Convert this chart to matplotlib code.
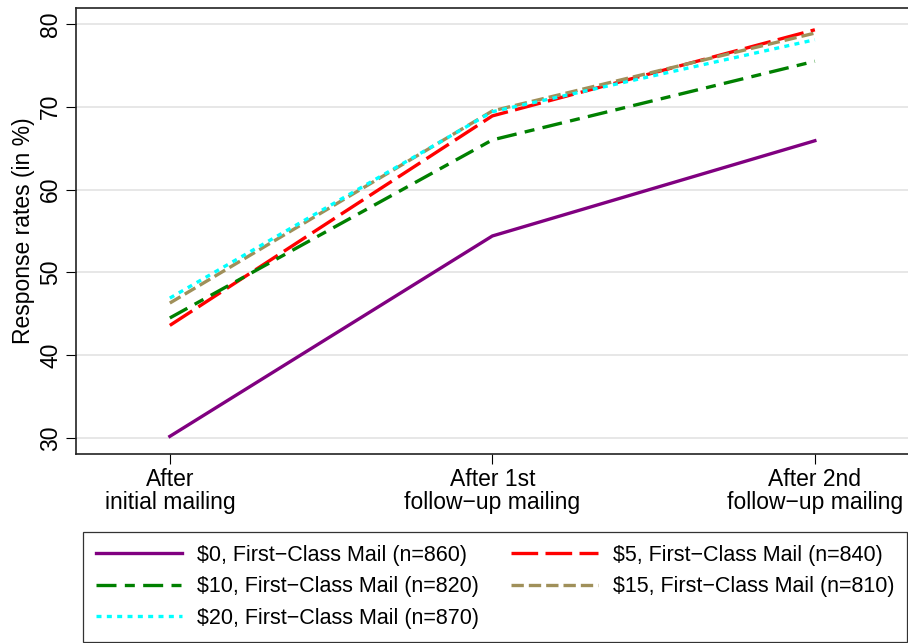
import matplotlib.pyplot as plt
import numpy as np

plt.rcParams['font.family'] = ['Liberation Sans', 'DejaVu Sans']

stages = ["After\ninitial mailing", "After 1st\nfollow\u2212up mailing", "After 2nd\nfollow\u2212up mailing"]
labels = ["$0, First\u2212Class Mail (n=860)", "$5, First\u2212Class Mail (n=840)",
          "$10, First\u2212Class Mail (n=820)", "$15, First\u2212Class Mail (n=810)",
          "$20, First\u2212Class Mail (n=870)"]
r0 = [30.2, 54.4, 65.9]
r5 = [43.6, 68.9, 79.3]
r10 = [44.5, 66.0, 75.5]
r15 = [46.3, 69.5, 78.9]
r20 = [46.9, 69.4, 78.1]

W, H = 908, 643
fig = plt.figure(figsize=(W / 100, H / 100), dpi=100)
ax = fig.add_axes([76 / W, 1 - 454 / H, (910 - 76) / W, (454 - 8) / H])

x = np.arange(len(stages))
lines = []
lines += ax.plot(x, r0, color='#800080', lw=2.4, ls='-', label=labels[0])
lines += ax.plot(x, r5, color='#FF0000', lw=2.4, ls=(0, (8, 2.2)), label=labels[1])
lines += ax.plot(x, r10, color='#008000', lw=2.4, ls=(0, (6, 2.5, 3, 2.5)), label=labels[2])
lines += ax.plot(x, r15, color='#A0905A', lw=2.4, ls=(0, (3.7, 1.5)), label=labels[3])
lines += ax.plot(x, r20, color='#00FFFF', lw=2.4, ls=(0, (1.5, 1.6)), label=labels[4])

ax.set_xlim(-0.291, 2.295)
ax.set_ylim(28.07, 81.93)
ax.set_yticks([30, 40, 50, 60, 70, 80])
ax.set_xticks(x)
ax.set_xticklabels(stages, fontsize=16.5, linespacing=1.0)
for t in ax.get_yticklabels():
    t.set_rotation(90)
    t.set_va('center')
    t.set_fontsize(16.5)
ax.set_ylabel("Response rates (in %)", fontsize=16.5, labelpad=3)
ax.grid(axis='y', color='#e5e5e5', lw=1.3)
ax.set_axisbelow(True)
ax.tick_params(direction='out', length=7, width=0.8, color='black', pad=3)
for s in ax.spines.values():
    s.set_linewidth(1.2)
    s.set_color('#222222')

order = [0, 2, 4, 1, 3]
leg = fig.legend([lines[i] for i in order], [labels[i] for i in order],
                 loc='upper left', bbox_to_anchor=(83 / W, 1 - 532 / H), ncol=2,
                 fontsize=15.5, handlelength=4.0, handletextpad=0.7,
                 frameon=True, fancybox=False, edgecolor='black',
                 columnspacing=1.5, borderpad=0.6, borderaxespad=0,
                 labelspacing=0.48)
leg.get_frame().set_linewidth(0.9)

fig.savefig('out.png', dpi=100)
